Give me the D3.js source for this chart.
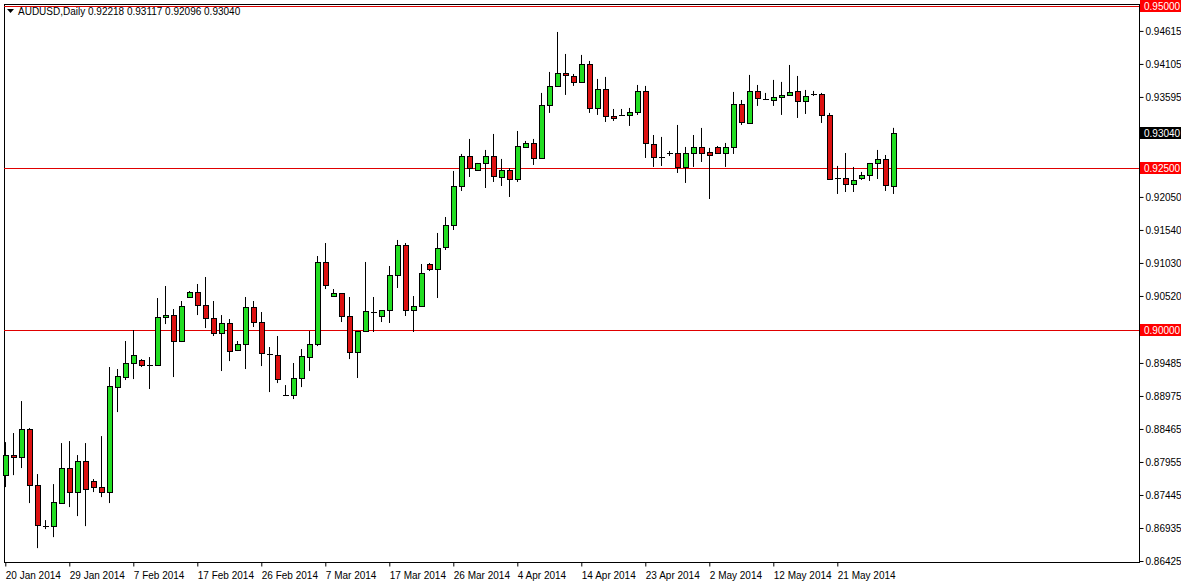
<!DOCTYPE html>
<html>
<head>
<meta charset="utf-8">
<script src="https://cdn.jsdelivr.net/npm/d3@7"></script>
<style>
  body { margin: 0; background: #fff; }
  text { font-family: "Liberation Sans", Arial, sans-serif; }
</style>
</head>
<body>
<div id="chart"></div>
<script>
// daily AUDUSD candles
var opens = [0.87752,0.88062,0.88031,0.88463,0.87598,0.86964,0.86964,0.87320,0.87861,0.87490,
  0.87969,0.87660,0.87567,0.87490,0.89113,0.89267,0.89484,0.89530,0.89453,0.89453,
  0.90194,0.90225,0.89824,0.90504,0.90581,0.90380,0.90179,0.89947,0.90102,0.89684,
  0.89777,0.90349,0.90117,0.89623,0.89607,0.88989,0.88989,0.89252,0.89576,0.89777,
  0.91045,0.90519,0.90565,0.90210,0.89654,0.89978,0.90272,0.90210,0.90303,0.90844,
  0.91307,0.90303,0.90364,0.91014,0.90936,0.91276,0.91616,0.92219,0.92683,0.92467,
  0.92575,0.92683,0.92358,0.92467,0.92327,0.92822,0.92884,0.92652,0.93471,0.93765,
  0.93966,0.93919,0.93827,0.94105,0.93425,0.93718,0.93301,0.93317,0.93317,0.93363,
  0.93688,0.92868,0.92667,0.92729,0.92729,0.92513,0.92729,0.92822,0.92745,0.92822,
  0.92729,0.92822,0.93487,0.93193,0.93688,0.93564,0.93548,0.93595,0.93626,0.93688,
  0.93533,0.93641,0.93641,0.93317,0.92343,0.92343,0.92250,0.92343,0.92389,0.92575,
  0.92637,0.92218];
var highs = [0.88262,0.88402,0.88896,0.88479,0.87768,0.87057,0.87613,0.88247,0.88278,0.88062,
  0.88247,0.87691,0.88355,0.89422,0.89391,0.89824,0.89994,0.89545,0.89576,0.90488,
  0.90674,0.90318,0.90442,0.90596,0.90705,0.90813,0.90442,0.90225,0.90164,0.89824,
  0.90504,0.90442,0.90272,0.89731,0.89901,0.89143,0.89484,0.89700,0.89978,0.91137,
  0.91338,0.90627,0.90565,0.90504,0.89978,0.91045,0.90504,0.90303,0.90983,0.91385,
  0.91338,0.90519,0.91014,0.91029,0.91493,0.91740,0.92451,0.92714,0.92946,0.92575,
  0.92776,0.93023,0.92637,0.92497,0.93069,0.92915,0.92946,0.93657,0.93981,0.94599,
  0.94259,0.93950,0.94244,0.94151,0.93873,0.93904,0.93409,0.93409,0.93425,0.93780,
  0.93765,0.93007,0.92977,0.92760,0.93162,0.92822,0.93007,0.93116,0.92807,0.92837,
  0.92884,0.93672,0.93548,0.93935,0.93780,0.93657,0.93858,0.93827,0.94089,0.93919,
  0.93703,0.93688,0.93657,0.93348,0.92529,0.92729,0.92513,0.92436,0.92575,0.92776,
  0.92698,0.93117];
var lows = [0.87567,0.87752,0.87861,0.87320,0.86624,0.86918,0.86794,0.87320,0.87258,0.87119,
  0.86964,0.87490,0.87412,0.87320,0.88726,0.89221,0.89236,0.89422,0.89082,0.89453,
  0.90086,0.89267,0.89808,0.90504,0.90225,0.90024,0.89901,0.89360,0.89514,0.89669,
  0.89391,0.90040,0.89437,0.89035,0.89174,0.88989,0.88927,0.89112,0.89360,0.89746,
  0.90627,0.90519,0.90117,0.89545,0.89252,0.89963,0.89963,0.90117,0.90102,0.90643,
  0.90210,0.89963,0.90364,0.90905,0.90488,0.91230,0.91539,0.92142,0.92358,0.92451,
  0.92188,0.92281,0.92219,0.92049,0.92281,0.92807,0.92544,0.92652,0.93348,0.93749,
  0.93626,0.93765,0.93827,0.93348,0.93317,0.93208,0.93224,0.93317,0.93147,0.93317,
  0.92652,0.92513,0.92528,0.92683,0.92420,0.92266,0.92513,0.92590,0.92018,0.92729,
  0.92513,0.92714,0.93162,0.93193,0.93456,0.93548,0.93456,0.93317,0.93626,0.93270,
  0.93332,0.93610,0.93193,0.92327,0.92096,0.92126,0.92126,0.92312,0.92297,0.92327,
  0.92142,0.92096];
var closes = [0.88062,0.88031,0.88463,0.87598,0.86980,0.86964,0.87335,0.87861,0.87490,0.87969,
  0.87536,0.87567,0.87490,0.89128,0.89283,0.89484,0.89607,0.89453,0.89453,0.90194,
  0.90225,0.89824,0.90364,0.90581,0.90380,0.90179,0.89947,0.90102,0.89669,0.89777,
  0.90349,0.90117,0.89638,0.89623,0.89236,0.88989,0.89252,0.89592,0.89777,0.91045,
  0.90689,0.90565,0.90210,0.89654,0.89978,0.90287,0.90272,0.90303,0.90844,0.91307,
  0.90303,0.90364,0.90875,0.90936,0.91261,0.91616,0.92219,0.92683,0.92497,0.92575,
  0.92683,0.92374,0.92467,0.92327,0.92837,0.92884,0.92652,0.93471,0.93765,0.93966,
  0.93935,0.93827,0.94105,0.93425,0.93718,0.93301,0.93270,0.93317,0.93363,0.93688,
  0.92884,0.92667,0.92667,0.92729,0.92513,0.92729,0.92822,0.92729,0.92698,0.92729,
  0.92822,0.93487,0.93208,0.93688,0.93579,0.93564,0.93595,0.93626,0.93672,0.93533,
  0.93610,0.93641,0.93317,0.92327,0.92343,0.92250,0.92312,0.92389,0.92575,0.92637,
  0.92235,0.93040];

// date labels every 8 bars
var dateLabels = ["20 Jan 2014","29 Jan 2014","7 Feb 2014","17 Feb 2014","26 Feb 2014","7 Mar 2014",
  "17 Mar 2014","26 Mar 2014","4 Apr 2014","14 Apr 2014","23 Apr 2014","2 May 2014","12 May 2014","21 May 2014"];
var priceTicks = [0.94615,0.94105,0.93595,0.92050,0.91540,0.91030,0.90520,
  0.89485,0.88975,0.88465,0.87955,0.87445,0.86935,0.86425];
var hLines = [0.95000,0.92500,0.90000];
var lastPrice = 0.93040;

var svgWidth = 1181, svgHeight = 582;
var plot = { left: 4, right: 1139, top: 4, bottom: 562 };

var svg = d3.select("#chart").append("svg")
    .attr("width", svgWidth)
    .attr("height", svgHeight);

var xScale = d3.scaleLinear().domain([0, 111]).range([5.3, 893.3]);
var yScale = d3.scaleLinear().domain([0.86425, 0.95]).range([561, 6]);

// frame
svg.append("rect")
    .attr("x", plot.left + 0.5).attr("y", plot.top + 0.5)
    .attr("width", plot.right - plot.left).attr("height", plot.bottom - plot.top)
    .attr("fill", "none").attr("stroke", "#000");

// horizontal level lines
svg.selectAll(".hline").data(hLines).enter().append("line")
    .attr("x1", plot.left).attr("x2", plot.right)
    .attr("y1", d => Math.round(yScale(d)) + 0.5).attr("y2", d => Math.round(yScale(d)) + 0.5)
    .attr("stroke", "#e00000");

// right axis
var rightAxis = d3.axisRight(yScale).tickValues(priceTicks)
    .tickSize(4).tickFormat(d3.format(".5f"));
var ra = svg.append("g").attr("transform", `translate(${plot.right + 0.5},0)`).call(rightAxis);
ra.select(".domain").remove();
ra.selectAll("text").attr("font-size", "10px").attr("font-family", "Liberation Sans").attr("x", 6);

// bottom axis
var bottomAxis = d3.axisBottom(xScale).tickValues(dateLabels.map((d, i) => i * 8))
    .tickSize(4).tickFormat((d, i) => dateLabels[i]);
var ba = svg.append("g").attr("transform", `translate(0,${plot.bottom + 0.5})`).call(bottomAxis);
ba.select(".domain").remove();
ba.selectAll("text").attr("font-size", "10px").attr("font-family", "Liberation Sans")
    .attr("text-anchor", "start").attr("x", 0).attr("dy", "0.9em");

// price boxes for levels and last price
var boxes = hLines.map(d => ({ p: d, fill: "#ff0000", color: "#fff" }))
    .concat([{ p: lastPrice, fill: "#000", color: "#fff" }]);
boxes.forEach(b => {
    var y = Math.round(yScale(b.p));
    svg.append("rect").attr("x", plot.right + 1).attr("y", y - 6)
        .attr("width", 41).attr("height", 12).attr("fill", b.fill);
    svg.append("text").attr("x", plot.right + 5).attr("y", y + 4)
        .attr("font-size", "10px").attr("fill", b.color).text(d3.format(".5f")(b.p));
});

// candles
var candles = opens.map((o, i) => ({ i: i, o: o, h: highs[i], l: lows[i], c: closes[i] }));
var cg = svg.append("g");
cg.selectAll(".wick").data(candles).enter().append("line")
    .attr("x1", d => Math.round(xScale(d.i)) + 0.5).attr("x2", d => Math.round(xScale(d.i)) + 0.5)
    .attr("y1", d => yScale(d.h)).attr("y2", d => yScale(d.l))
    .attr("stroke", "#000");
cg.selectAll(".body").data(candles).enter().append("rect")
    .attr("x", d => Math.round(xScale(d.i)) - 2 + 0.5)
    .attr("y", d => Math.round(yScale(Math.max(d.o, d.c))) + 0.5)
    .attr("width", 5)
    .attr("height", d => Math.max(0.01, Math.round(yScale(Math.min(d.o, d.c))) - Math.round(yScale(Math.max(d.o, d.c)))))
    .attr("fill", d => d.c >= d.o ? "#22dd22" : "#dd1111")
    .attr("stroke", "#000");

// title
svg.append("text").attr("x", 18).attr("y", 15).attr("font-size", "10px")
    .text("AUDUSD,Daily  0.92218 0.93117 0.92096 0.93040");
svg.append("path").attr("d", "M7,9 L14,9 L10.5,13 Z").attr("fill", "#000");
</script>
</body>
</html>
